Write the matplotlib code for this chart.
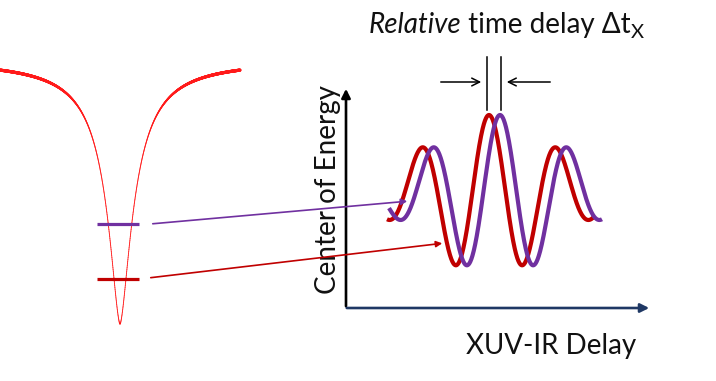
"""Schematic: absorption line, energy levels and RABBITT-like oscillations with relative delay."""
import numpy as np
import matplotlib
matplotlib.use("Agg")
import matplotlib.pyplot as plt
from matplotlib.collections import LineCollection
from matplotlib.patches import FancyArrowPatch

W, H = 716, 381

# absorption dip (pixel-space profile parameters)
DIP_CENTER = 120.0
DIP_BOTTOM = 324.0
DIP_BASE = 60.0
DIP_WIDTH = 16.0
DIP_POWER = 1.6
DIP_RANGE = (0.0, 240.0)

# energy levels on the dip: (y, colour)
LEVEL_Y = [223.5, 279.0]
LEVEL_COLORS = ["#7030a0", "#c00000"]
LEVEL_X = (97, 139)
POINTER_START = [(150, 224), (148, 278)]
POINTER_END = [(410, 201), (445, 243)]

# oscillation traces
WAVE_CENTER = [489.0, 500.0]
WAVE_COLORS = ["#c00000", "#7030a0"]
WAVE_SPAN = [(387, 594), (389, 602)]
WAVE_PERIOD = 68.0
WAVE_BASE = 195.0
WAVE_AMP = 80.0
WAVE_SIGMA = 66.0

TITLE_PARTS = [("Relative", "italic", 20, 0), (" time delay Δt", "normal", 20, 0), ("X", "normal", 14.5, 5)]

fig = plt.figure(figsize=(W / 100, H / 100), dpi=100)
ax = fig.add_axes([0, 0, 1, 1])
ax.set_xlim(0, W)
ax.set_ylim(H, 0)
ax.axis("off")
fig.patch.set_facecolor("white")

# dip, drawn thicker where it runs horizontal
x = np.linspace(DIP_RANGE[0], DIP_RANGE[1], 1200)
dx = np.abs(x - DIP_CENTER)
y = DIP_BASE + (DIP_BOTTOM - DIP_BASE) / (1 + (dx / DIP_WIDTH) ** DIP_POWER)
pts = np.column_stack([x, y])
segs = np.stack([pts[:-1], pts[1:]], axis=1)
d = segs[:, 1] - segs[:, 0]
cos_t = np.abs(d[:, 0]) / np.hypot(d[:, 0], d[:, 1])
widths = 0.6 + 1.7 * cos_t ** 2
ax.add_collection(LineCollection(segs, colors="#ff1a1a", linewidths=widths, capstyle="round", zorder=2))

for ly, col, p0, p1 in zip(LEVEL_Y, LEVEL_COLORS, POINTER_START, POINTER_END):
    ax.plot(LEVEL_X, [ly, ly], color=col, lw=2.3, solid_capstyle="butt", zorder=3)
    ax.add_patch(FancyArrowPatch(p0, p1, arrowstyle="-|>", mutation_scale=9, color=col, lw=1.2, zorder=5))

# axes of the right-hand panel
ax.add_patch(FancyArrowPatch((346, 309), (346, 86), arrowstyle="-|>", mutation_scale=13, color="black", lw=1.9, zorder=4))
ax.add_patch(FancyArrowPatch((344, 308), (652, 308), arrowstyle="-|>", mutation_scale=13, color="#1f3864", lw=1.9, zorder=4))

for xc, col, (xa, xb) in zip(WAVE_CENTER, WAVE_COLORS, WAVE_SPAN):
    xs = np.linspace(xa, xb, 800)
    env = WAVE_AMP * np.exp(-((xs - xc) ** 2) / (2 * WAVE_SIGMA ** 2))
    ys = WAVE_BASE - env * np.cos(2 * np.pi * (xs - xc) / WAVE_PERIOD)
    ax.plot(xs, ys, color=col, lw=3.0, solid_capstyle="butt", zorder=3)

# delay marker
for mx in (487, 501):
    ax.plot([mx, mx], [57, 110], color="black", lw=1.1, zorder=4)
ax.annotate("", xy=(484, 82), xytext=(438, 82),
            arrowprops=dict(arrowstyle="->", color="black", lw=1.1, mutation_scale=14))
ax.annotate("", xy=(504, 82), xytext=(553, 82),
            arrowprops=dict(arrowstyle="->", color="black", lw=1.1, mutation_scale=14))

FONT = "Lato"
TXT = "#111111"

# title pieces laid out one after another, centred over the delay marker
renderer = fig.canvas.get_renderer()
texts = []
for s, st, fs, dy in TITLE_PARTS:
    t = ax.text(0, 33 + dy, s, fontsize=fs, style=st, family=FONT, color=TXT, va="baseline", ha="left")
    texts.append(t)
widths_px = [t.get_window_extent(renderer).width for t in texts]
cursor = 506 - sum(widths_px) / 2
for t, wpx in zip(texts, widths_px):
    t.set_x(cursor)
    cursor += wpx

ax.text(551, 346, "XUV-IR Delay", fontsize=20, family=FONT, color=TXT, ha="center", va="center")
ax.text(328, 190, "Center of Energy", fontsize=20, family=FONT, color=TXT, rotation=90, ha="center", va="center")

fig.savefig("out.png", dpi=100)
